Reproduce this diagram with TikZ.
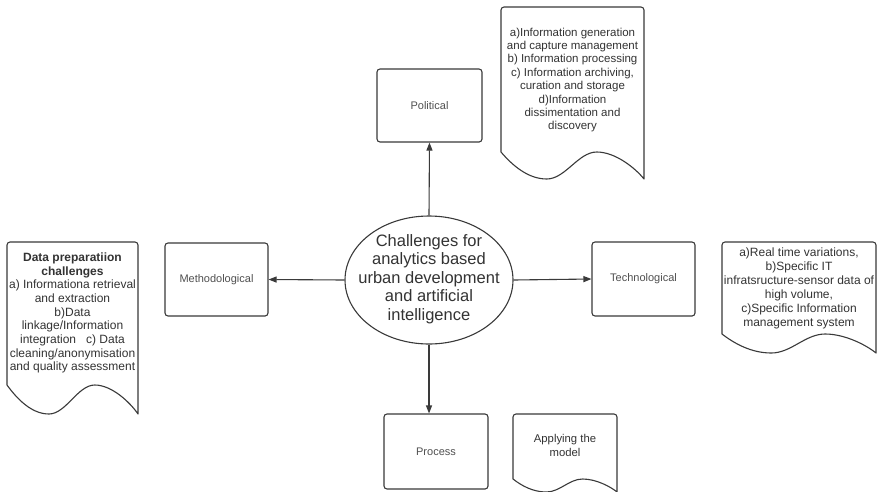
\documentclass[tikz,border=0pt]{standalone}
\usepackage{fontspec}
\setmainfont{Liberation Sans}
\usetikzlibrary{arrows.meta,shapes.geometric}
\definecolor{linegray}{HTML}{3A3A3A}
\definecolor{labelgray}{HTML}{505050}
\definecolor{textgray}{HTML}{333333}
\newcommand{\docshape}[5]{%
  \pgfmathsetmacro\docW{#2-#1}%
  \pgfmathsetmacro\docT{#1+0.32*\docW}%
  \pgfmathsetmacro\docC{#1+0.67*\docW}%
  \pgfmathsetmacro\docB{#4+#5}%
  \draw[docline] (#1,#4) [rounded corners=3pt] -- (#1,#3) -- (#2,#3) [sharp corners] -- (#2,\docB)
    .. controls ({#2-0.06*\docW},{#4+0.6*#5}) and ({\docC+0.13*\docW},#4) .. (\docC,#4)
    .. controls ({\docC-0.13*\docW},#4) and ({\docT+0.13*\docW},\docB) .. (\docT,\docB)
    .. controls ({\docT-0.13*\docW},\docB) and ({#1+0.08*\docW},{#4+0.5*#5}) .. (#1,#4) -- cycle;}
\begin{document}
\begin{tikzpicture}[x=1pt,y=-1pt,
  docline/.style={draw=linegray, line width=1.1pt, line join=round},
  boxnode/.style={draw=linegray, line width=1.1pt, rounded corners=3pt, inner sep=0pt,
    font=\fontsize{11}{13}\selectfont, text=labelgray},
  doctext/.style={align=center, text=textgray, inner sep=0pt, font=\fontsize{11.5}{13.4}\selectfont},
  arrowline/.style={draw=linegray, line width=1.1pt, -{Triangle[length=8pt,width=6pt]}}
]
\useasboundingbox (0,0) rectangle (878,491);
\fill[white] (0,0) rectangle (878,491);

% central ellipse
\node[ellipse, draw=linegray, line width=1.1pt, minimum width=168pt, minimum height=128pt, inner sep=0pt] (center) at (429,280) {};
\node[align=center, text=textgray, inner sep=0pt, font=\fontsize{16.5}{18.4}\selectfont] (centertext) at (429,279)
  {Challenges for\\analytics based\\urban development\\and artificial\\intelligence};

% boxes
\node[boxnode, minimum width=105pt, minimum height=73pt] (political) at (429.5,105.5) {Political};
\node[boxnode, minimum width=103pt, minimum height=73pt] (method) at (216.5,279.5) {Methodological};
\node[boxnode, minimum width=103pt, minimum height=74pt] (tech) at (643.5,279) {Technological};
\node[boxnode, minimum width=104pt, minimum height=75pt] (process) at (436,451.5) {Process};

% arrows
\draw[arrowline] (center.north) -- (political.south);
\draw[arrowline] (center.west) -- (method.east);
\draw[arrowline] (center.east) -- (tech.west);
\draw[arrowline] (center.south) -- (center.south |- process.north);

% documents
\docshape{501}{644}{7}{152}{27}
\node[doctext] (poltext) at (572.5,80) {a)Information generation\\and capture management\\b) Information processing\\c) Information archiving,\\curation and storage\\d)Information\\dissimentation and\\discovery};

\docshape{7}{138}{242}{385}{29}
\node[doctext, font=\fontsize{12}{13.7}\selectfont] (preptext) at (72.5,313) {\textbf{Data preparatiion}\\\textbf{challenges}\\a) Informationa retrieval\\and extraction\\b)Data\\linkage/Information\\integration\ \ \ c) Data\\cleaning/anonymisation\\and quality assessment};

\docshape{722}{876}{242}{334}{19}
\node[doctext, font=\fontsize{12}{14}\selectfont] (techtext) at (799,288) {a)Real time variations,\\b)Specific IT\\infratsructure-sensor data of\\high volume,\\c)Specific Information\\management system};

\docshape{513}{617}{414}{479}{13}
\node[doctext, font=\fontsize{11.3}{14}\selectfont] (applytext) at (565,445) {Applying the\\model};
\end{tikzpicture}
\end{document}
